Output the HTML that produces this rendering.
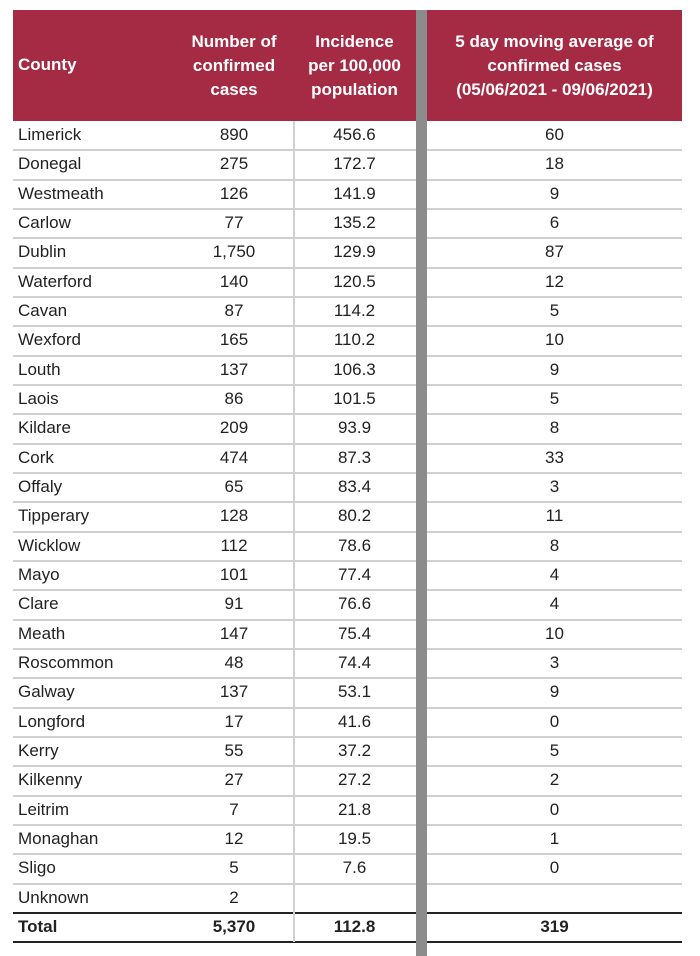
<!DOCTYPE html>
<html><head><meta charset="utf-8"><style>
body{margin:0;width:700px;height:956px;background:#fff;position:relative;overflow:hidden;font-family:"Liberation Sans",Arial,sans-serif;}
#hdr{position:absolute;left:13px;top:10px;width:669px;height:111px;background:#a52b45;}
.h{position:absolute;color:#fff;font-weight:bold;font-size:17px;line-height:24px;text-align:center;}
#gray{position:absolute;left:416px;top:10px;width:11px;height:946px;background:#8c8c8c;}
.row{position:absolute;left:13px;width:669px;font-size:17px;color:#222;}
.c{position:absolute;top:0;text-align:center;}
.line{position:absolute;left:13px;width:669px;height:2px;background:#d0d0d0;}
.vl{position:absolute;left:293px;width:2px;background:#d0d0d0;}
</style></head><body>
<div id="hdr">
 <div class="h" style="left:5px;top:43px;text-align:left">County</div>
 <div class="h" style="left:162px;width:118px;top:20px">Number of<br>confirmed<br>cases</div>
 <div class="h" style="left:280px;width:123px;top:20px">Incidence<br>per 100,000<br>population</div>
 <div class="h" style="left:414px;width:255px;top:20px">5 day moving average of<br>confirmed cases<br>(05/06/2021 - 09/06/2021)</div>
</div>
<div id="rows"></div>
<div id="gray"></div>
<script>
const counties=["Limerick","Donegal","Westmeath","Carlow","Dublin","Waterford","Cavan","Wexford","Louth","Laois","Kildare","Cork","Offaly","Tipperary","Wicklow","Mayo","Clare","Meath","Roscommon","Galway","Longford","Kerry","Kilkenny","Leitrim","Monaghan","Sligo","Unknown"];
const cases=["890","275","126","77","1,750","140","87","165","137","86","209","474","65","128","112","101","91","147","48","137","17","55","27","7","12","5","2"];
const incidence=["456.6","172.7","141.9","135.2","129.9","120.5","114.2","110.2","106.3","101.5","93.9","87.3","83.4","80.2","78.6","77.4","76.6","75.4","74.4","53.1","41.6","37.2","27.2","21.8","19.5","7.6",""];
const avg=["60","18","9","6","87","12","5","10","9","5","8","33","3","11","8","4","4","10","3","9","0","5","2","0","1","0",""];
const total=["Total","5,370","112.8","319"];
const wrap=document.getElementById('rows');
const top0=121,rh=29.33;
function addRow(vals,i,bold){
 const r=document.createElement('div');
 r.className='row';
 
 
 r.style.top=(top0+i*rh+4)+'px';r.style.height='22px';
 if(bold)r.style.fontWeight='bold';
 const cols=[[5,null,'left'],[162,118,'center'],[280,123,'center'],[414,255,'center']];
 const names=['county','cases','incidence','average'];
 cols.forEach((c,j)=>{const d=document.createElement('div');d.className='c';
  
  
  d.style.left=c[0]+'px';if(c[1])d.style.width=c[1]+'px';d.style.textAlign=c[2];d.textContent=vals[j];r.appendChild(d);});
 wrap.appendChild(r);
}
counties.forEach((c,i)=>{
 addRow([c,cases[i],incidence[i],avg[i]],i,false);
 const l=document.createElement('div');l.className='line';
 
 
 l.style.top=(top0+(i+1)*rh-1)+'px';
 if(i==counties.length-1){l.style.background='#222';}
 wrap.appendChild(l);
});
addRow(total,27,true);
const b=document.createElement('div');b.className='line';


b.style.top=(top0+28*rh-1)+'px';b.style.background='#222';wrap.appendChild(b);
const v=document.createElement('div');v.className='vl';


v.style.top=top0+'px';v.style.height=(28*rh)+'px';wrap.appendChild(v);
</script>
</body></html>
